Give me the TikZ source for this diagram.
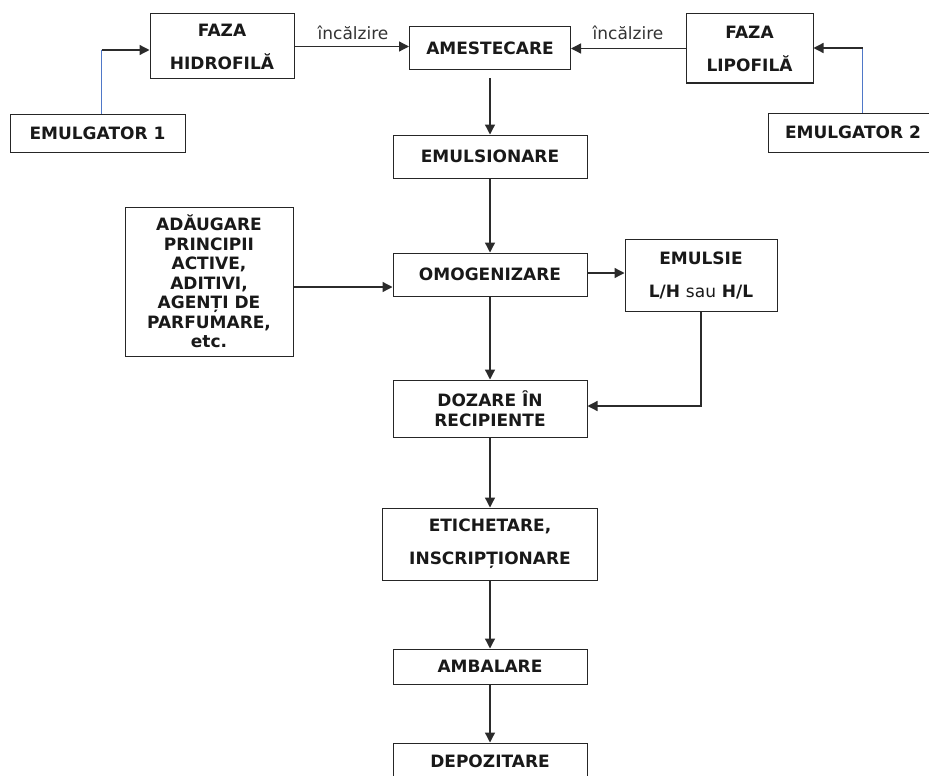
\documentclass[tikz,border=0pt]{standalone}
\usepackage{fontspec}
\setmainfont{DejaVu Sans}
\usetikzlibrary{arrows.meta}
\definecolor{ln}{HTML}{2B2B2B}
\definecolor{bl}{HTML}{4F78C8}
\begin{document}
\begin{tikzpicture}[x=1pt,y=-1pt,
  box/.style={draw=black!85, line width=1pt, inner sep=0pt, align=center, text=black!90,
    font=\bfseries\fontsize{17}{19.5}\selectfont},
  dbl/.style={font=\bfseries\fontsize{17}{33}\selectfont},
  lbl/.style={inner sep=0pt, text=black!80, font=\fontsize{17}{20}\selectfont},
  arr/.style={-{Triangle[length=10pt,width=10pt]}, draw=ln, line width=1.3pt},
  bline/.style={draw=bl, line width=1.2pt}]
\useasboundingbox (0,0) rectangle (929,776);
\clip (0,0) rectangle (929,776);
\fill[white] (0,0) rectangle (929,776);
% boxes
\node[box, dbl, minimum width=144pt, minimum height=65pt] (fh) at (222,46.5) {FAZA\\HIDROFILĂ};
\node[box, minimum width=175pt, minimum height=38pt] (e1) at (97.5,133) {EMULGATOR 1};
\node[box, minimum width=161pt, minimum height=43pt] (am) at (490,48.5) {AMESTECARE};
\node[box, dbl, minimum width=127pt, minimum height=69pt] (fl) at (749.5,48.5) {FAZA\\LIPOFILĂ};
\node[box, minimum width=170pt, minimum height=39pt] (e2) at (853,132.5) {EMULGATOR 2};
\node[box, minimum width=194pt, minimum height=43pt] (em) at (490,156.5) {EMULSIONARE};
\node[box, minimum width=168pt, minimum height=149pt] (ad) at (209,281.5) {ADĂUGARE\\PRINCIPII\\ACTIVE,\\ADITIVI,\\AGENȚI DE\\PARFUMARE,\\etc.};
\node[box, minimum width=194pt, minimum height=43pt] (om) at (490,274.5) {OMOGENIZARE};
\node[box, dbl, minimum width=152pt, minimum height=72pt] (es) at (701,275) {EMULSIE\\L/H {\mdseries sau} H/L};
\node[box, minimum width=194pt, minimum height=57pt] (dz) at (490,408.5) {DOZARE ÎN\\RECIPIENTE};
\node[box, dbl, minimum width=215pt, minimum height=72pt] (et) at (490,544) {ETICHETARE,\\INSCRIPȚIONARE};
\node[box, minimum width=194pt, minimum height=35pt] (amb) at (490,666.5) {AMBALARE};
\node[box, minimum width=194pt, minimum height=36pt] (dp) at (490,761) {DEPOZITARE};
% labels
\node[lbl] (l1) at (353,33) {încălzire};
\node[lbl] (l2) at (628,33) {încălzire};
% connectors
\coordinate (c1) at (101.5,50);
\draw[bline] (c1 |- e1.north) -- (c1);
\draw[arr] (c1) -- (c1 -| fh.west);
\draw[arr] (fh.east) -- (fh.east -| am.west);
\draw[arr] (fl.west) -- (fl.west -| am.east);
\coordinate (c2) at (862.5,48);
\draw[bline] (c2 |- e2.north) -- (c2);
\draw[arr] (c2) -- (c2 -| fl.east);
\draw[arr, shorten <=8pt] (am.south) -- (em.north);
\draw[arr] (em.south) -- (om.north);
\coordinate (c3) at (293,287);
\draw[arr] (c3 -| ad.east) -- (c3 -| om.west);
\coordinate (c4) at (600,273);
\draw[arr] (c4 -| om.east) -- (c4 -| es.west);
\draw[arr] (om.south) -- (dz.north);
\coordinate (c5) at (701,406);
\draw[arr] (es.south) |- (c5 -| dz.east);
\draw[arr] (dz.south) -- (et.north);
\draw[arr] (et.south) -- (amb.north);
\draw[arr] (amb.south) -- (dp.north);
\end{tikzpicture}
\end{document}
